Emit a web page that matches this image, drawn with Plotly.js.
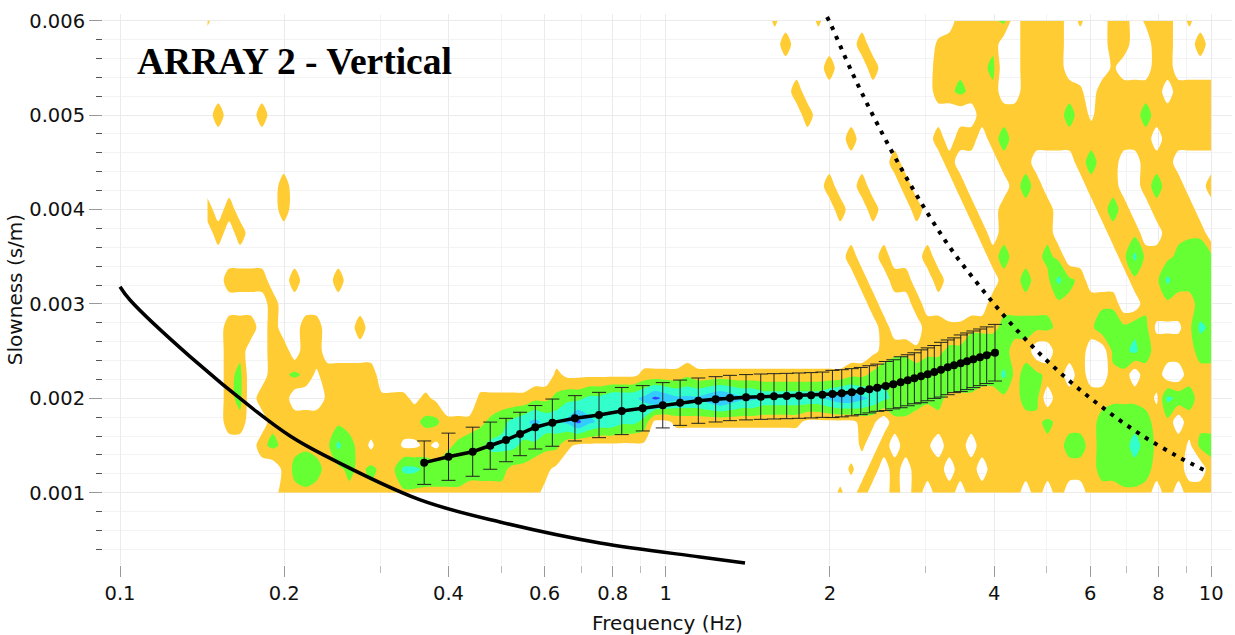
<!DOCTYPE html>
<html><head><meta charset="utf-8">
<script src="https://cdn.plot.ly/plotly-3.0.1.min.js"></script>
<style>html,body{margin:0;padding:0;background:#fff;}#chart{width:1235px;height:635px;}</style>
</head><body><div id="chart"></div>
<script>
// ---- dispersion curve picked on the image (frequency Hz, slowness s/m, +/- error)
const curveFreq = [0.361,0.400,0.443,0.477,0.510,0.541,0.577,0.620,0.682,0.755,0.831,0.908,0.988,1.063,1.148,1.235,1.312,1.404,1.494,1.580,1.667,1.756,1.848,1.938,2.022,2.103,2.194,2.279,2.363,2.443,2.532,2.614,2.697,2.778,2.857,2.939,3.023,3.108,3.197,3.289,3.378,3.475,3.568,3.664,3.769,3.877,4.015];
const curveSlow = [0.001318,0.001381,0.001434,0.001498,0.001558,0.001622,0.001693,0.001742,0.001788,0.001823,0.001865,0.001894,0.001926,0.001953,0.001975,0.001989,0.002003,0.002011,0.002017,0.002021,0.002024,0.002028,0.002032,0.002038,0.002046,0.002053,0.002064,0.002077,0.002095,0.002112,0.00213,0.002148,0.00217,0.002191,0.002212,0.002233,0.002254,0.002279,0.002303,0.002328,0.00235,0.002371,0.002392,0.002413,0.002434,0.002456,0.002483];
const curveErr = [0.00023,0.00025,0.00026,0.00025,0.00023,0.00023,0.00023,0.00025,0.00024,0.00024,0.00025,0.00024,0.00024,0.00024,0.00024,0.00024,0.00024,0.00024,0.00024,0.00024,0.00024,0.00024,0.00024,0.00024,0.00025,0.00025,0.00025,0.00025,0.00025,0.00025,0.00026,0.00026,0.00027,0.00027,0.00027,0.00028,0.00028,0.00028,0.00029,0.00029,0.00029,0.0003,0.0003,0.0003,0.0003,0.0003,0.0003];
// ---- solid limit curve (left) and dotted limit curve (right)
const limitFreq = [0.1,0.1043,0.1344,0.178,0.205,0.236,0.355,0.497,0.758,1.156,1.398];
const limitSlow = [0.003182,0.003041,0.002441,0.001858,0.0016,0.0014,0.000923,0.00069,0.000467,0.000319,0.000255];
const aliasFreq = [1.976,2.001,2.196,2.430,2.708,3.043,3.368,3.770,4.248,4.822,5.518,6.362,7.383,8.647,9.783];
const aliasSlow = [0.006039,0.005979,0.005453,0.004934,0.004426,0.003931,0.003547,0.003182,0.002822,0.002487,0.002176,0.00189,0.001625,0.001389,0.00123];
// ---- energy map levels (0-1 none, 2-3 yellow, 4-5 green, 6-7 teal, 8-9 sky, a blue)
// rows from slowness 0.006 (top) down to 0.001 (bottom), columns from log10(f) = -0.84 to 1.00 in 0.02 steps
const heatRows = [
'2000000000 0000000000 0000000000 0000000000 0000000000 0020002000 0000000003 3334033330 2003302330 200',
'0000000000 0000000000 0000000000 0000000000 0000000000 0003000000 3000000233 3330033330 0003300330 030',
'0000000000 0000000000 0000000000 0000000000 0000000000 0000000300 0300000333 3340033330 0002000330 000',
'0000000000 0000000000 0000000000 0000000000 0000000000 0000300000 0000000334 3330033333 2033333303 333',
'0300030000 0000000000 0000000000 0000000000 0000000000 0000030000 0000000000 0333333334 3133334333 333',
'0000000000 0000000000 0000000000 0000000000 0000000000 0000000003 0000000303 3034333333 3333333033 333',
'0000000000 0000000000 0000000000 0000000000 0000000000 0000000000 0003000030 0003330000 3433003330 000',
'0000000300 0000000000 0000000000 0000000000 0000000000 0000000300 3000300003 0000343000 0333003433 003',
'3030000300 0000000000 0000000000 0000000000 0000000000 0000000030 0300030000 3003333300 0034300333 300',
'0303000000 0000000000 0000000000 0000000000 0000000000 0000000000 0000000000 0303333300 0003330033 330',
'0000000000 0000000000 0000000000 0000000000 0000000000 0000000003 0030003000 0034333430 0000363334 554',
'0033330030 0030000000 0000000000 0000000000 0000000000 0000000000 3003300300 0003343364 3000033364 454',
'0000003000 0000000000 0000000000 0000000000 0000000000 0000000000 0300030000 0033333333 3333003333 344',
'0033303003 3000300000 0000000000 0000000000 0000000000 0000000000 0030003322 3334444433 3355454111 365',
'0033003303 3000000000 0000000000 0000000000 0000000000 0000000000 0123323344 5554330033 3004564333 344',
'0034003343 1333330000 0000000000 0021111111 2222322222 2222222223 3455555555 5446344330 3003303300 333',
'0034033300 0233222221 2100022222 3345566777 8a98889a98 8777777899 8765544433 3333344033 3333333165 433',
'0033003333 3333333333 4422234567 8778a87766 5112222222 2222211111 2203332332 3323333433 3345554330 333',
'0000034333 3364313311 2134556665 5442111111 1000000000 0000000000 2030332033 0333333334 4345565333 144',
'0000000245 4334343366 5555444433 2210000000 0000000000 0000000002 0303033303 3033333333 3344554333 003',
'0000000333 3333333333 3333333322 2100000000 0000000000 0000000020 3003030330 3333303030 0333333030 333'
];
const heatLogFreqStart = -0.84, heatLogFreqStep = 0.02;
const heatSlowTop = 0.006, heatSlowStep = 0.00025;
const levelColors = ['#FFCC33', '#66FF33', '#33FFCC', '#33CCFF', '#3340FF'];
// ---- axes
const xTickVals = [0.1,0.2,0.4,0.6,0.8,1,2,4,6,8,10];
const xTickText = ['0.1','0.2','0.4','0.6','0.8','1','2','4','6','8','10'];
const xMinorVals = [0.3,0.5,0.7,0.9,3,5,7,9];
const yTickVals = [0.001,0.002,0.003,0.004,0.005,0.006];
const yTickText = ['0.001','0.002','0.003','0.004','0.005','0.006'];

// build grid
const zTop = heatRows.map(r => r.replace(/\s+/g,'').split('').map(ch => parseInt(ch,16)));
const nRow = zTop.length, nCol = zTop[0].length;
const gridFreq = Array.from({length:nCol}, (_, c) => Math.pow(10, heatLogFreqStart + heatLogFreqStep*c));
const gridSlow = Array.from({length:nRow}, (_, r) => heatSlowTop - heatSlowStep*(nRow-1-r));
const z = zTop.slice().reverse();

const T = 'rgba(255,255,255,0)';
const cs = [[0,T],[0.1,T],[0.1,levelColors[0]],[0.3,levelColors[0]],[0.3,levelColors[1]],[0.5,levelColors[1]],
  [0.5,levelColors[2]],[0.7,levelColors[2]],[0.7,levelColors[3]],[0.9,levelColors[3]],[0.9,levelColors[4]],[1,levelColors[4]]];

const traces = [
 {type:'contour', x:gridFreq, y:gridSlow, z:z, colorscale:cs, showscale:false, hoverinfo:'skip',
  contours:{start:1.5, end:9.5, size:2, coloring:'fill', showlines:false},
  line:{width:0, smoothing:0.8}},
 {type:'scatter', mode:'lines', x:limitFreq, y:limitSlow, line:{color:'#000', width:3.5, shape:'spline', smoothing:1}, hoverinfo:'skip'},
 {type:'scatter', mode:'lines', x:aliasFreq, y:aliasSlow, line:{color:'#000', width:4, dash:'4px,6.5px', shape:'spline'}, hoverinfo:'skip'},
 {type:'scatter', mode:'lines+markers', x:curveFreq, y:curveSlow,
  line:{color:'#000', width:3.5}, marker:{color:'#000', size:8},
  error_y:{type:'data', array:curveErr, visible:true, color:'#222', thickness:1, width:7}, hoverinfo:'skip'}
];

const layout = {
 width:1235, height:635, margin:{l:103, r:3, t:14, b:70},
 paper_bgcolor:'#fff', plot_bgcolor:'#fff', showlegend:false,
 font:{family:'DejaVu Sans', size:19, color:'#111'},
 title:{text:'ARRAY 2 - Vertical', font:{family:'Liberation Serif', size:37.5, weight:'bold', color:'#000'},
   xref:'container', yref:'container', x:137/1235, xanchor:'left', y:1-61/635, yanchor:'middle'},
 xaxis:{type:'log', range:[-1.0312, 1.0381], tickmode:'array', tickvals:xTickVals, ticktext:xTickText,
   ticks:'outside', ticklen:11, tickcolor:'#999', tickwidth:1, showgrid:true, gridcolor:'#ebebeb',
   zeroline:false, showline:false, tickfont:{size:19.5},
   minor:{tickmode:'array', tickvals:xMinorVals, ticks:'outside', ticklen:7, tickcolor:'#bbb', showgrid:true, gridcolor:'#f3f3f3'},
   title:{text:'Frequency (Hz)', font:{size:20}}},
 yaxis:{range:[0.000234, 0.006071], tickmode:'array', tickvals:yTickVals, ticktext:yTickText,
   ticks:'outside', ticklen:13, tickcolor:'#999', tickwidth:1, showgrid:true, gridcolor:'#ebebeb',
   zeroline:false, showline:false, tickfont:{size:19.5},
   minor:{dtick:0.0002, tick0:0, ticks:'outside', ticklen:6, tickcolor:'#555', showgrid:true, gridcolor:'#f3f3f3'},
   title:{text:'Slowness (s/m)', font:{size:20}}}
};
Plotly.newPlot('chart', traces, layout, {displayModeBar:false, staticPlot:true});
</script></body></html>
